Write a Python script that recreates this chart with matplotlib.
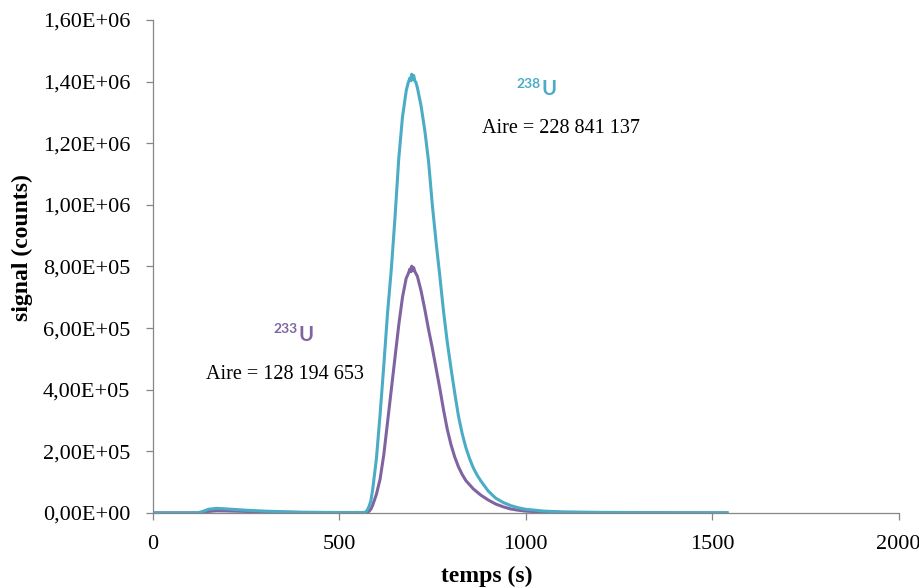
import matplotlib
matplotlib.use("Agg")
import matplotlib.pyplot as plt
from matplotlib.ticker import FuncFormatter, MultipleLocator

# ---- data ----
t_238 = [0, 120, 135, 150, 172, 200, 250, 300, 350, 400, 450, 500, 560,
         570, 575, 580, 585, 590, 600, 610, 620, 630, 640, 650, 660, 670,
         680, 685, 690, 693, 695, 698, 700, 703, 706, 710, 720, 730, 740,
         750, 760, 770, 780, 790, 800, 810, 820, 830, 840, 850, 860, 870,
         880, 900, 920, 940, 960, 980, 1000, 1050, 1100, 1200, 1300, 1400,
         1540]
y_238 = [500, 500, 5000, 12000, 15000, 13000, 9000, 6000, 4000, 2500, 2000,
         1500, 1500,
         2000, 8000, 20000, 38000, 75000, 175000, 320000, 480000, 650000,
         790000, 960000, 1150000, 1285000,
         1370000, 1395000, 1412000, 1403000, 1424000, 1408000, 1420000,
         1402000, 1398000, 1380000, 1320000, 1240000, 1140000,
         1000000, 880000, 770000, 655000, 555000, 470000, 390000, 315000,
         258000, 212000, 176000, 146000, 123000,
         104000, 71000, 48000, 34000, 24000, 17000, 12000, 6000, 3500, 2000,
         1300, 1000, 800]

t_233 = [0, 120, 135, 150, 172, 200, 250, 300, 350, 400, 500, 565,
         575, 580, 585, 590, 600, 610, 620, 630, 640, 650, 660, 670, 680,
         685, 690, 693, 695, 698, 700, 703, 710, 720, 730, 740, 750, 760,
         770, 780, 790, 800, 810, 820, 830, 840, 860, 880, 900, 920, 940,
         960, 980, 1000, 1050, 1100, 1200, 1300, 1400, 1540]
y_233 = [300, 300, 2000, 5000, 7000, 6500, 5000, 3500, 2500, 1500, 1000, 1000,
         2000, 5000, 12000, 25000, 60000, 110000, 190000, 295000, 400000,
         505000, 610000, 700000, 762000,
         775000, 792000, 783000, 801000, 788000, 796000, 784000, 768000,
         720000, 660000, 595000, 535000, 470000,
         405000, 335000, 272000, 222000, 182000, 150000, 125000, 105000,
         78000, 58000, 42000, 29000, 20000,
         13000, 9000, 6000, 3000, 1800, 900, 500, 300, 200]

x_ticks = [0, 500, 1000, 1500, 2000]

c238 = "#4BACC6"
c233 = "#8064A2"
gray = "#868686"

fig = plt.figure(figsize=(9.19, 5.88), dpi=100)
ax = fig.add_axes([0.1660, 0.1276, 0.8118, 0.8384])

ax.plot(t_233, y_233, color=c233, lw=2.2, solid_joinstyle="round")
ax.plot(t_238, y_238, color=c238, lw=2.2, solid_joinstyle="round")

ax.set_xlim(0, 2000)
ax.set_ylim(0, 1.6e6)
ax.set_xticks(x_ticks)
ax.yaxis.set_major_locator(MultipleLocator(2e5))
ax.yaxis.set_major_formatter(
    FuncFormatter(lambda v, p: f"{v:.2E}".replace(".", ",")))

serif = "Liberation Serif"
for lab in ax.get_xticklabels() + ax.get_yticklabels():
    lab.set_family(serif)
    lab.set_fontsize(16)

for s in ["top", "right"]:
    ax.spines[s].set_visible(False)
for s in ["left", "bottom"]:
    ax.spines[s].set_color(gray)
    ax.spines[s].set_linewidth(0.9)
ax.tick_params(axis="both", direction="out", length=5, color=gray,
               width=0.9, labelcolor="black")
ax.tick_params(axis="y", pad=11)
ax.tick_params(axis="x", pad=11)

ax.set_xlabel("temps (s)", family=serif, fontsize=17, fontweight="bold")
ax.set_ylabel("signal (counts)", family=serif, fontsize=17,
              fontweight="bold")
ax.xaxis.set_label_coords(0.448, -0.108)
ax.yaxis.set_label_coords(-0.160, 0.5375)

# annotations
ax.text(1040, 1.393e6, "238", color=c238, family="Lato", fontsize=10,
        fontweight="bold", ha="right", va="center")
ax.text(1042, 1.375e6, "U", color=c238, family="Lato", fontsize=14.5,
        fontweight="bold", ha="left", va="center")
ax.text(1095, 1.247e6, "Aire = 228 841 137", family=serif, fontsize=14.5,
        ha="center", va="center")

ax.text(388, 0.597e6, "233", color=c233, family="Lato", fontsize=10,
        fontweight="bold", ha="right", va="center")
ax.text(390, 0.579e6, "U", color=c233, family="Lato", fontsize=14.5,
        fontweight="bold", ha="left", va="center")
ax.text(355, 0.451e6, "Aire = 128 194 653", family=serif, fontsize=14.5,
        ha="center", va="center")

fig.savefig("out.png", dpi=100)
